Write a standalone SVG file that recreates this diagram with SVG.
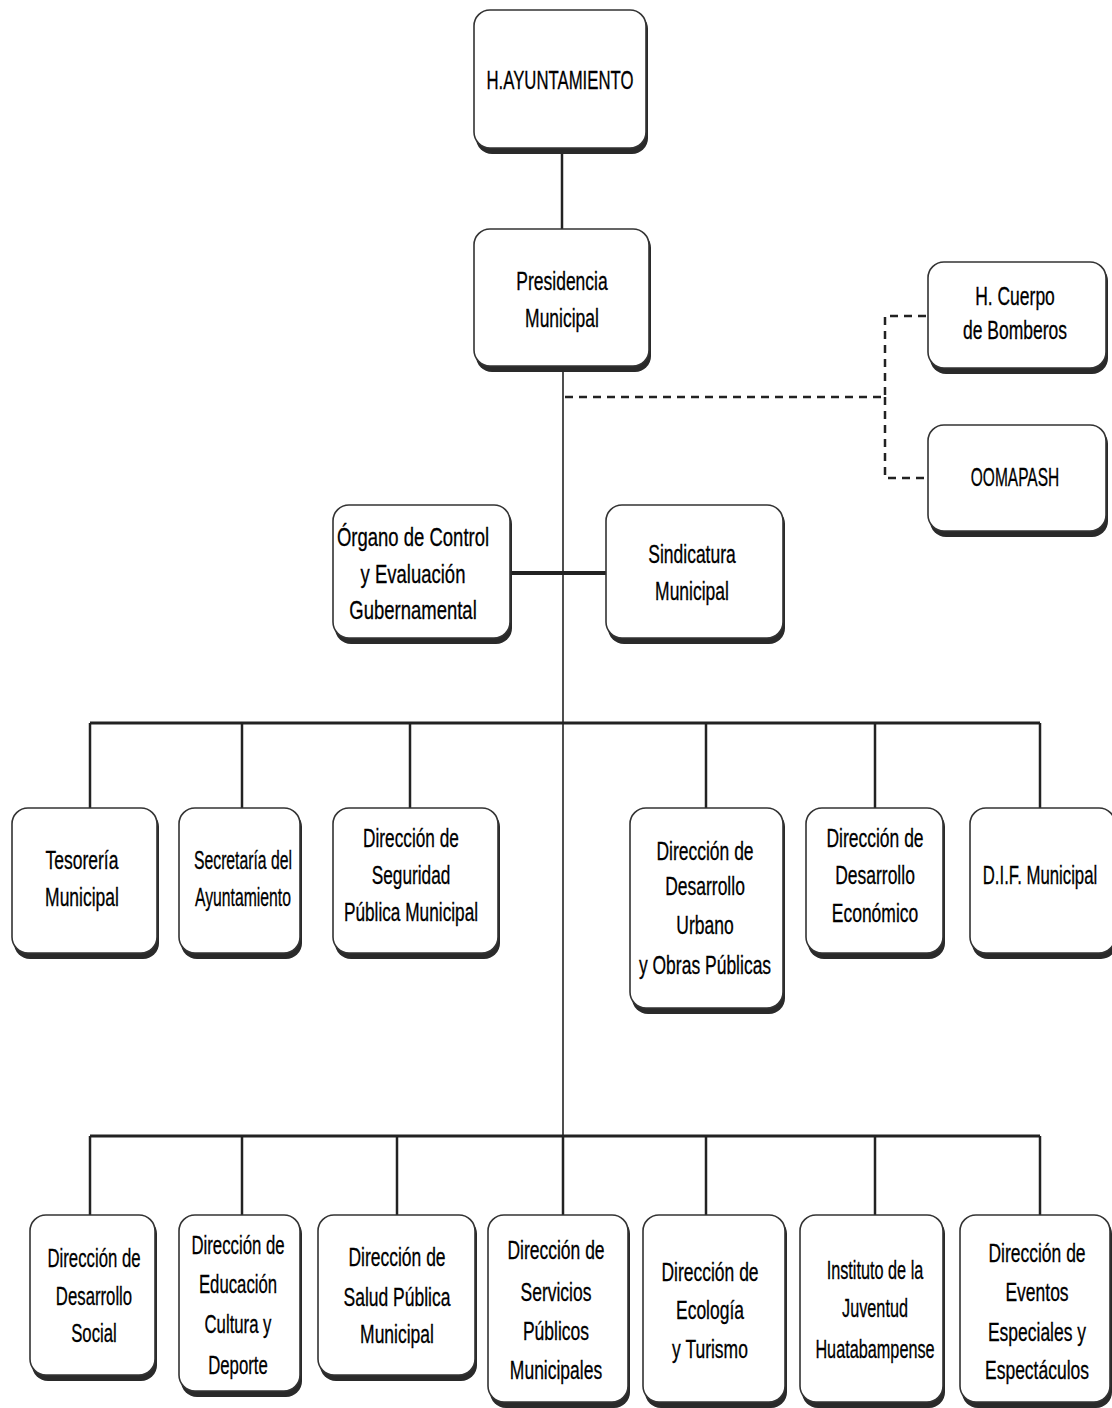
<svg xmlns="http://www.w3.org/2000/svg" width="1112" height="1408" viewBox="0 0 1112 1408">
<style>
.box{fill:#fff;stroke:#333;stroke-width:1.6}
.sh{fill:#2a2a2a}
.t{font-family:"Liberation Sans",Arial,sans-serif;font-size:25px;fill:#000;text-anchor:middle;stroke:#000;stroke-width:0.3}
.c{stroke:#222;fill:none}
.dash{stroke:#222;fill:none;stroke-width:2.5;stroke-dasharray:8 6}
</style>
<rect width="1112" height="1408" fill="#fff"/>
<g id="connectors">
<line class="c" x1="562" y1="150" x2="562" y2="229" stroke-width="2.5"/>
<line class="c" x1="563" y1="368" x2="563" y2="1136" stroke-width="1.6"/>
<polyline class="dash" points="565,397 885,397 885,316 928,316"/>
<polyline class="dash" points="885,397 885,478 928,478"/>
<line class="c" x1="511" y1="573" x2="606" y2="573" stroke-width="4"/>
<line class="c" x1="90" y1="723" x2="1040" y2="723" stroke-width="3"/>
<line class="c" x1="90" y1="723" x2="90" y2="808" stroke-width="2.5"/>
<line class="c" x1="242" y1="723" x2="242" y2="808" stroke-width="2.5"/>
<line class="c" x1="410" y1="723" x2="410" y2="808" stroke-width="2.5"/>
<line class="c" x1="706" y1="723" x2="706" y2="808" stroke-width="2.5"/>
<line class="c" x1="875" y1="723" x2="875" y2="808" stroke-width="2.5"/>
<line class="c" x1="1040" y1="723" x2="1040" y2="808" stroke-width="2.5"/>
<line class="c" x1="90" y1="1136" x2="1040" y2="1136" stroke-width="3"/>
<line class="c" x1="90" y1="1136" x2="90" y2="1215" stroke-width="2.5"/>
<line class="c" x1="242" y1="1136" x2="242" y2="1215" stroke-width="2.5"/>
<line class="c" x1="397" y1="1136" x2="397" y2="1215" stroke-width="2.5"/>
<line class="c" x1="563" y1="1136" x2="563" y2="1215" stroke-width="2.5"/>
<line class="c" x1="706" y1="1136" x2="706" y2="1215" stroke-width="2.5"/>
<line class="c" x1="875" y1="1136" x2="875" y2="1215" stroke-width="2.5"/>
<line class="c" x1="1040" y1="1136" x2="1040" y2="1215" stroke-width="2.5"/>
</g>

<g id="n-ayuntamiento">
<rect class="sh" x="476" y="13" width="172" height="141" rx="16"/>
<rect class="box" x="474" y="10" width="172" height="138" rx="16"/>
<g transform="translate(560,0) scale(0.67,1)"><text class="t" x="0" y="89">H.AYUNTAMIENTO</text></g>
</g>

<g id="n-presidencia">
<rect class="sh" x="476" y="232" width="175" height="140" rx="16"/>
<rect class="box" x="474" y="229" width="175" height="137" rx="16"/>
<g transform="translate(562,0) scale(0.7,1)"><text class="t" x="0" y="290">Presidencia</text><text class="t" x="0" y="327">Municipal</text></g>
</g>

<g id="n-bomberos">
<rect class="sh" x="930" y="265" width="178" height="109" rx="16"/>
<rect class="box" x="928" y="262" width="178" height="106" rx="16"/>
<g transform="translate(1015,0) scale(0.7,1)"><text class="t" x="0" y="305">H. Cuerpo</text><text class="t" x="0" y="339">de Bomberos</text></g>
</g>

<g id="n-oomapash">
<rect class="sh" x="930" y="428" width="178" height="109" rx="16"/>
<rect class="box" x="928" y="425" width="178" height="106" rx="16"/>
<g transform="translate(1015,0) scale(0.62,1)"><text class="t" x="0" y="486">OOMAPASH</text></g>
</g>

<g id="n-organo">
<rect class="sh" x="335" y="508" width="177" height="136" rx="16"/>
<rect class="box" x="333" y="505" width="177" height="133" rx="16"/>
<g transform="translate(413,0) scale(0.74,1)"><text class="t" x="0" y="546">Órgano de Control</text><text class="t" x="0" y="583">y Evaluación</text><text class="t" x="0" y="619">Gubernamental</text></g>
</g>

<g id="n-sindicatura">
<rect class="sh" x="608" y="508" width="177" height="136" rx="16"/>
<rect class="box" x="606" y="505" width="177" height="133" rx="16"/>
<g transform="translate(692,0) scale(0.7,1)"><text class="t" x="0" y="563">Sindicatura</text><text class="t" x="0" y="600">Municipal</text></g>
</g>

<g id="n-tesoreria">
<rect class="sh" x="14" y="811" width="145" height="148" rx="16"/>
<rect class="box" x="12" y="808" width="145" height="145" rx="16"/>
<g transform="translate(82,0) scale(0.7,1)"><text class="t" x="0" y="869">Tesorería</text><text class="t" x="0" y="906">Municipal</text></g>
</g>

<g id="n-secretaria">
<rect class="sh" x="181" y="811" width="121" height="148" rx="16"/>
<rect class="box" x="179" y="808" width="121" height="145" rx="16"/>
<g transform="translate(243,0) scale(0.63,1)"><text class="t" x="0" y="869">Secretaría del</text><text class="t" x="0" y="906">Ayuntamiento</text></g>
</g>

<g id="n-seguridad">
<rect class="sh" x="335" y="811" width="165" height="148" rx="16"/>
<rect class="box" x="333" y="808" width="165" height="145" rx="16"/>
<g transform="translate(411,0) scale(0.69,1)"><text class="t" x="0" y="847">Dirección de</text><text class="t" x="0" y="884">Seguridad</text><text class="t" x="0" y="921">Pública Municipal</text></g>
</g>

<g id="n-urbano">
<rect class="sh" x="632" y="811" width="153" height="203" rx="16"/>
<rect class="box" x="630" y="808" width="153" height="200" rx="16"/>
<g transform="translate(705,0) scale(0.7,1)"><text class="t" x="0" y="860">Dirección de</text><text class="t" x="0" y="895">Desarrollo</text><text class="t" x="0" y="934">Urbano</text><text class="t" x="0" y="974">y Obras Públicas</text></g>
</g>

<g id="n-economico">
<rect class="sh" x="808" y="811" width="137" height="148" rx="16"/>
<rect class="box" x="806" y="808" width="137" height="145" rx="16"/>
<g transform="translate(875,0) scale(0.7,1)"><text class="t" x="0" y="847">Dirección de</text><text class="t" x="0" y="884">Desarrollo</text><text class="t" x="0" y="922">Económico</text></g>
</g>

<g id="n-dif">
<rect class="sh" x="972" y="811" width="145" height="148" rx="16"/>
<rect class="box" x="970" y="808" width="145" height="145" rx="16"/>
<g transform="translate(1040,0) scale(0.67,1)"><text class="t" x="0" y="884">D.I.F. Municipal</text></g>
</g>

<g id="n-social">
<rect class="sh" x="32" y="1218" width="125" height="163" rx="16"/>
<rect class="box" x="30" y="1215" width="125" height="160" rx="16"/>
<g transform="translate(94,0) scale(0.67,1)"><text class="t" x="0" y="1267">Dirección de</text><text class="t" x="0" y="1305">Desarrollo</text><text class="t" x="0" y="1342">Social</text></g>
</g>

<g id="n-educacion">
<rect class="sh" x="181" y="1218" width="121" height="179" rx="16"/>
<rect class="box" x="179" y="1215" width="121" height="176" rx="16"/>
<g transform="translate(238,0) scale(0.67,1)"><text class="t" x="0" y="1254">Dirección de</text><text class="t" x="0" y="1293">Educación</text><text class="t" x="0" y="1333">Cultura y</text><text class="t" x="0" y="1374">Deporte</text></g>
</g>

<g id="n-salud">
<rect class="sh" x="320" y="1218" width="157" height="163" rx="16"/>
<rect class="box" x="318" y="1215" width="157" height="160" rx="16"/>
<g transform="translate(397,0) scale(0.7,1)"><text class="t" x="0" y="1266">Dirección de</text><text class="t" x="0" y="1306">Salud Pública</text><text class="t" x="0" y="1343">Municipal</text></g>
</g>

<g id="n-servicios">
<rect class="sh" x="490" y="1218" width="140" height="190" rx="16"/>
<rect class="box" x="488" y="1215" width="140" height="187" rx="16"/>
<g transform="translate(556,0) scale(0.7,1)"><text class="t" x="0" y="1259">Dirección de</text><text class="t" x="0" y="1301">Servicios</text><text class="t" x="0" y="1340">Públicos</text><text class="t" x="0" y="1379">Municipales</text></g>
</g>

<g id="n-ecologia">
<rect class="sh" x="645" y="1218" width="142" height="190" rx="16"/>
<rect class="box" x="643" y="1215" width="142" height="187" rx="16"/>
<g transform="translate(710,0) scale(0.7,1)"><text class="t" x="0" y="1281">Dirección de</text><text class="t" x="0" y="1319">Ecología</text><text class="t" x="0" y="1358">y Turismo</text></g>
</g>

<g id="n-instituto">
<rect class="sh" x="802" y="1218" width="143" height="190" rx="16"/>
<rect class="box" x="800" y="1215" width="143" height="187" rx="16"/>
<g transform="translate(875,0) scale(0.65,1)"><text class="t" x="0" y="1279">Instituto de la</text><text class="t" x="0" y="1317">Juventud</text><text class="t" x="0" y="1358">Huatabampense</text></g>
</g>

<g id="n-eventos">
<rect class="sh" x="962" y="1218" width="150" height="190" rx="16"/>
<rect class="box" x="960" y="1215" width="150" height="187" rx="16"/>
<g transform="translate(1037,0) scale(0.7,1)"><text class="t" x="0" y="1262">Dirección de</text><text class="t" x="0" y="1301">Eventos</text><text class="t" x="0" y="1341">Especiales y</text><text class="t" x="0" y="1379">Espectáculos</text></g>
</g>
</svg>
